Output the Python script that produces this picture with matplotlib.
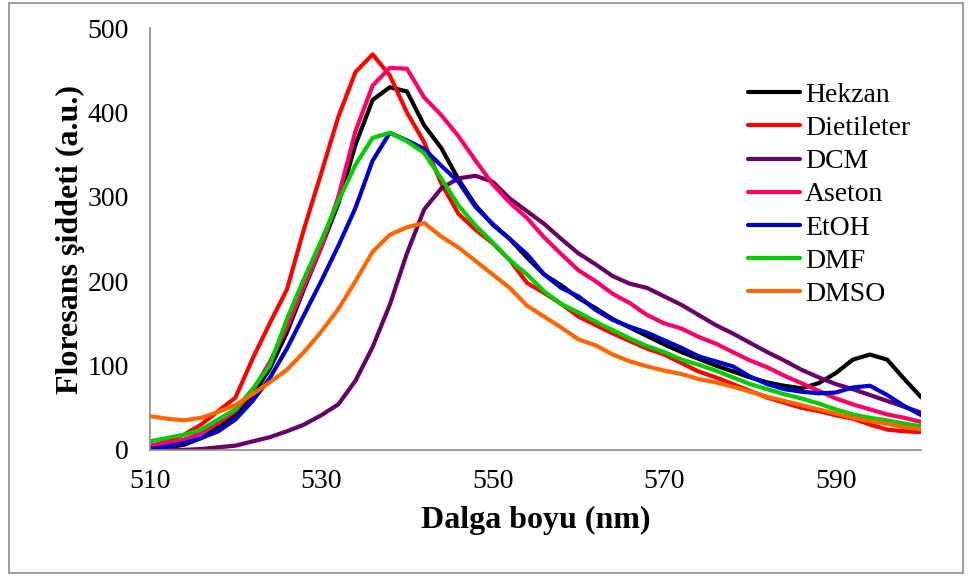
import numpy as np
import matplotlib
matplotlib.use('Agg')
import matplotlib.pyplot as plt
from matplotlib.patches import Rectangle

plt.rcParams['font.family'] = ['Liberation Serif', 'DejaVu Serif']

# wavelength (nm)
wl = np.arange(510, 601, 2)

hekzan = [0, 3, 6, 14, 27, 42, 65, 96, 139, 191, 240, 292, 362, 415, 430, 425, 385, 358, 321, 290,
          267, 250, 228, 208, 195, 180, 168, 155, 145, 135, 125, 116, 108, 100, 93, 86, 80, 76, 73, 79,
          91, 107, 113, 107, 84, 62]
dietileter = [4, 10, 18, 30, 46, 62, 108, 150, 190, 262, 328, 395, 448, 469, 444, 400, 365, 316, 280, 261,
              245, 225, 198, 186, 173, 158, 148, 138, 129, 120, 113, 103, 93, 86, 78, 70, 62, 56, 50, 46,
              41, 37, 30, 24, 22, 21]
dcm = [0, 0, 0, 1, 3, 5, 10, 15, 22, 30, 41, 54, 82, 122, 172, 233, 285, 310, 322, 325,
       318, 298, 283, 268, 250, 233, 220, 206, 197, 192, 182, 172, 160, 148, 138, 127, 116, 106, 95, 86,
       78, 72, 65, 58, 51, 44]
aseton = [5, 8, 12, 20, 32, 46, 70, 104, 145, 194, 240, 300, 378, 432, 453, 452, 418, 397, 372, 343,
          315, 293, 275, 252, 232, 213, 200, 185, 174, 160, 150, 144, 134, 126, 116, 106, 98, 88, 79, 70,
          61, 54, 48, 42, 38, 33]
etoh = [1, 4, 8, 14, 22, 36, 58, 85, 120, 160, 200, 242, 287, 343, 376, 367, 357, 337, 318, 288,
        268, 250, 232, 208, 192, 182, 166, 154, 146, 139, 130, 121, 111, 105, 99, 87, 78, 72, 69, 67,
        68, 74, 76, 65, 52, 41]
dmf = [10, 14, 18, 24, 36, 48, 72, 100, 155, 203, 248, 295, 338, 370, 376, 366, 352, 322, 290, 266,
       246, 225, 208, 188, 173, 163, 152, 142, 132, 123, 116, 107, 101, 94, 86, 78, 72, 66, 61, 55,
       48, 42, 38, 35, 31, 28]
dmso = [40, 37, 35, 38, 45, 53, 66, 80, 95, 116, 140, 167, 200, 235, 255, 264, 269, 253, 240, 224,
        208, 192, 171, 158, 145, 131, 124, 113, 105, 99, 94, 90, 84, 80, 75, 69, 63, 58, 53, 48,
        43, 38, 34, 31, 27, 24]

labels = ['Hekzan', 'Dietileter', 'DCM', 'Aseton', 'EtOH', 'DMF', 'DMSO']
colors = ['#000000', '#FF0000', '#660066', '#FF0066', '#0000CC', '#00CC00', '#FF6600']
series = [hekzan, dietileter, dcm, aseton, etoh, dmf, dmso]

fig = plt.figure(figsize=(9.72, 5.76), dpi=100)
ax = fig.add_axes([0.154, 0.219, 0.794, 0.732])

for y, lab, c in zip(series, labels, colors):
    ax.plot(wl, y, color=c, lw=3.0, label=lab, solid_joinstyle='round', solid_capstyle='round')

ax.set_xlim(510, 600)
ax.set_ylim(0, 500)
ax.set_xticks([510, 530, 550, 570, 590])
ax.set_yticks([0, 100, 200, 300, 400, 500])
ax.tick_params(length=0, labelsize=20)
ax.tick_params(axis='x', pad=14)
ax.tick_params(axis='y', pad=15)
for s in ['top', 'right']:
    ax.spines[s].set_visible(False)
for s in ['left', 'bottom']:
    ax.spines[s].set_color('#8c8c8c')
    ax.spines[s].set_linewidth(1.2)

ax.set_xlabel('Dalga boyu (nm)', fontsize=23, fontweight='bold', labelpad=8)
ax.set_ylabel('Floresans şiddeti (a.u.)', fontsize=23, fontweight='bold', labelpad=2)

ax.legend(loc='upper left', bbox_to_anchor=(0.7695, 0.857), bbox_transform=fig.transFigure,
          frameon=False, fontsize=20, handlelength=1.87, handletextpad=0.18,
          labelspacing=0.28, borderaxespad=0, borderpad=0)

fig.patches.append(Rectangle((0.009, 0.006), 0.982, 0.988, transform=fig.transFigure,
                             fill=False, edgecolor='#8c8c8c', lw=1.2))

fig.savefig('out.png', dpi=100)
